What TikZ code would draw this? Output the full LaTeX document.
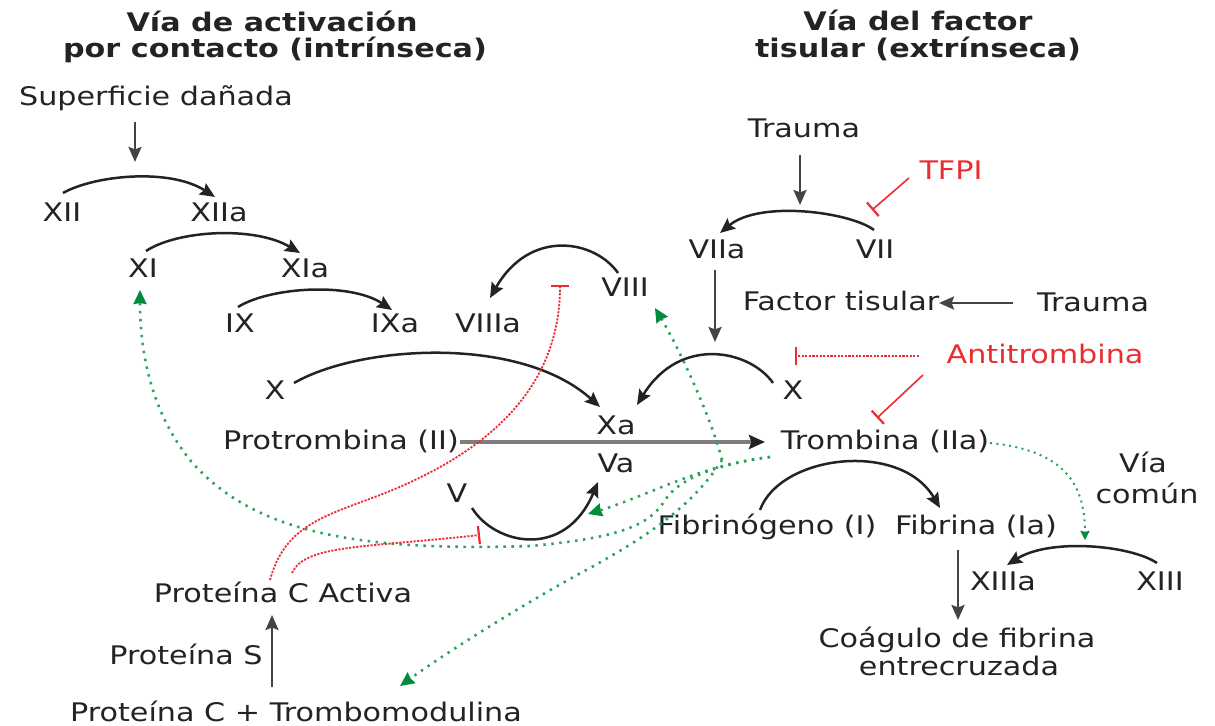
\documentclass[tikz,border=0pt]{standalone}
\usepackage{fontspec}
\setmainfont{DejaVu Sans}[FakeStretch=1.18]
\usetikzlibrary{arrows.meta}
\definecolor{ink}{RGB}{35,35,35}
\definecolor{convgray}{RGB}{125,125,125}
\definecolor{inhred}{RGB}{235,45,50}
\definecolor{fbgreen}{RGB}{40,165,90}
\definecolor{fbdark}{RGB}{0,140,60}
\begin{document}
\begin{tikzpicture}[x=0.5pt,y=-0.5pt,
 lbl/.style={inner sep=0pt, anchor=base, text=ink, font=\fontsize{12.8pt}{15pt}\selectfont},
 ttl/.style={lbl, font=\fontsize{12.8pt}{15pt}\selectfont\bfseries},
 rlbl/.style={lbl, text=inhred},
 act/.style={draw=ink, line width=1.25pt, -{Stealth[length=7.5pt,width=6.5pt,inset=1.2pt]}},
 vact/.style={draw=ink!85, line width=1.25pt, -{Stealth[length=7.5pt,width=6.5pt,inset=1.2pt]}},
 conv/.style={draw=convgray, line width=2pt, -{Stealth[length=8pt,width=7pt,inset=1.2pt,color=ink]}},
 inh/.style={draw=inhred, line width=0.8pt, -{Bar[width=9pt,line width=1.1pt]}},
 inhdot/.style={inh, line width=0.9pt, dash pattern=on 1.1pt off 0.7pt},
 fb/.style={draw=fbgreen, line width=1.3pt, dash pattern=on 1.2pt off 2.8pt, -{Stealth[length=7pt,width=6.5pt,inset=0.5pt,color=fbdark]}},
 fbsmall/.style={draw=fbgreen, line width=1pt, dash pattern=on 1pt off 2.2pt, -{Stealth[length=4.5pt,width=4.5pt,inset=0.4pt,color=fbdark]}},
]
\useasboundingbox (0,0) rectangle (1215,726);
% titles
\node[ttl] (t1a) at (272,32) {Vía de activación};
\node[ttl] (t1b) at (275,58) {por contacto (intrínseca)};
\node[ttl] (t2a) at (918,31) {Vía del factor};
\node[ttl] (t2b) at (918,58) {tisular (extrínseca)};
% labels
\node[lbl] (sup) at (156,106) {Superficie dañada};
\node[lbl] (xii) at (62,222) {XII};
\node[lbl] (xiia) at (219,222) {XIIa};
\node[lbl] (xi) at (143,278) {XI};
\node[lbl] (xia) at (305,278) {XIa};
\node[lbl] (ix) at (240,333) {IX};
\node[lbl] (ixa) at (395,333) {IXa};
\node[lbl] (viiia) at (488,333) {VIIIa};
\node[lbl] (viii) at (625,297) {VIII};
\node[lbl] (xl) at (275,400) {X};
\node[lbl] (prot) at (341,450) {Protrombina (II)};
\node[lbl] (xa) at (616,435) {Xa};
\node[lbl] (va) at (616,473) {Va};
\node[lbl] (v) at (457,503) {V};
\node[lbl] (trauma1) at (804,138) {Trauma};
\node[rlbl] (tfpi) at (951,180) {TFPI};
\node[lbl] (viia) at (717,259) {VIIa};
\node[lbl] (vii) at (875,259) {VII};
\node[lbl] (ft) at (841,311) {Factor tisular};
\node[lbl] (trauma2) at (1093,312) {Trauma};
\node[rlbl] (anti) at (1045,364) {Antitrombina};
\node[lbl] (xr) at (793,400) {X};
\node[lbl] (trom) at (885,450) {Trombina (IIa)};
\node[lbl] (fibg) at (767,535) {Fibrinógeno (I)};
\node[lbl] (fib) at (976,535) {Fibrina (Ia)};
\node[lbl] (via) at (1143,473) {Vía};
\node[lbl] (comun) at (1147,504) {común};
\node[lbl] (xiiia) at (1003,590) {XIIIa};
\node[lbl] (xiii) at (1160,590) {XIII};
\node[lbl] (coag) at (957,647) {Coágulo de fibrina};
\node[lbl] (entre) at (959,675) {entrecruzada};
\node[lbl] (pca) at (283,603) {Proteína C Activa};
\node[lbl] (ps) at (186,664) {Proteína S};
\node[lbl] (pctm) at (296,721) {Proteína C + Trombomodulina};
% intrinsic
\draw[vact] ([shift={(-21,16)}]sup.base) -- ([shift={(-21,56)}]sup.base);
\draw[act] ([shift={(1,-29)}]xii.base) .. controls (95,175) and (170,168) .. ([shift={(-4,-25)}]xiia.base);
\draw[act] ([shift={(3,-27)}]xi.base) .. controls (178,230) and (255,226) .. ([shift={(-5,-25)}]xia.base);
\draw[act] ([shift={(-2,-26)}]ix.base) .. controls (270,287) and (350,282) .. ([shift={(-3,-23)}]ixa.base);
\draw[act] ([shift={(-7,-24)}]viii.base) .. controls (595,240) and (530,228) .. ([shift={(2,-35)}]viiia.base);
\draw[act] ([shift={(19,-17)}]xl.base) .. controls (360,345) and (520,335) .. ([shift={(-16,-28)}]xa.base);
% extrinsic
\draw[act] ([shift={(-20,-17)}]xr.base) .. controls (750,350) and (680,335) .. ([shift={(21,-30)}]xa.base);
\draw[vact] ([shift={(-2,11)}]viia.base) -- ([shift={(-2,83)}]viia.base);
\draw[vact] ([shift={(-4,17)}]trauma1.base) -- ([shift={(-4,67)}]trauma1.base);
\draw[act] ([shift={(-1,-29)}]vii.base) .. controls (850,212) and (760,200) .. ([shift={(3,-26)}]viia.base);
\draw[inh] ([shift={(-42,-2)}]tfpi.base) -- ([shift={(-79,30)}]tfpi.base);
\draw[vact] ([shift={(-80,-9)}]trauma2.base) -- ([shift={(98,-8)}]ft.base);
\draw[inhdot] ([shift={(-126,-8)}]anti.base) -- ([shift={(-250,-8)}]anti.base);
\draw[inh] ([shift={(-122,11)}]anti.base) -- ([shift={(-168,54)}]anti.base);
% common
\draw[conv] ([shift={(119,-8)}]prot.base) -- ([shift={(-120,-8)}]trom.base);
\draw[act] ([shift={(15,5)}]v.base) .. controls (495,545) and (565,560) .. ([shift={(-18,9)}]va.base);
\draw[act] ([shift={(-7,-25)}]fibg.base) .. controls (780,455) and (900,440) .. ([shift={(-36,-27)}]fib.base);
\draw[vact] ([shift={(-18,15)}]fib.base) -- ([shift={(1,-27)}]coag.base);
\draw[act] ([shift={(-3,-27)}]xiii.base) .. controls (1130,545) and (1050,538) .. ([shift={(4,-25)}]xiiia.base);
% thrombin feedback
\draw[fbsmall] ([shift={(105,-7)}]trom.base) .. controls (1060,450) and (1085,480) .. ([shift={(82,-50)}]xiiia.base);
\draw[fb] ([shift={(-115,7)}]trom.base) .. controls (700,465) and (650,495) .. ([shift={(-28,41)}]va.base);
\draw[fb] ([shift={(-115,7)}]trom.base) .. controls (715,465) and (680,478) .. (665,500) .. controls (650,525) and (620,538) .. (530,546) .. controls (350,552) and (250,530) .. (190,460) .. controls (150,410) and (140,350) .. ([shift={(-3,12)}]xi.base);
\draw[fb] ([shift={(-163,10)}]trom.base) .. controls (712,420) and (680,350) .. ([shift={(30,11)}]viii.base);
\draw[fb] ([shift={(-163,10)}]trom.base) .. controls (690,510) and (640,540) .. (590,568) .. controls (530,600) and (450,650) .. ([shift={(104,-35)}]pctm.base);
% protein C
\draw[inhdot] ([shift={(-13,-23)}]pca.base) .. controls (285,525) and (325,516) .. (380,495) .. controls (470,460) and (560,400) .. ([shift={(-65,-12)}]viii.base);
\draw[inhdot] ([shift={(9,-30)}]pca.base) .. controls (305,545) and (360,548) .. ([shift={(23,32)}]v.base);
\draw[vact] ([shift={(-24,-34)}]pctm.base) -- ([shift={(-11,12)}]pca.base);
\end{tikzpicture}
\end{document}
